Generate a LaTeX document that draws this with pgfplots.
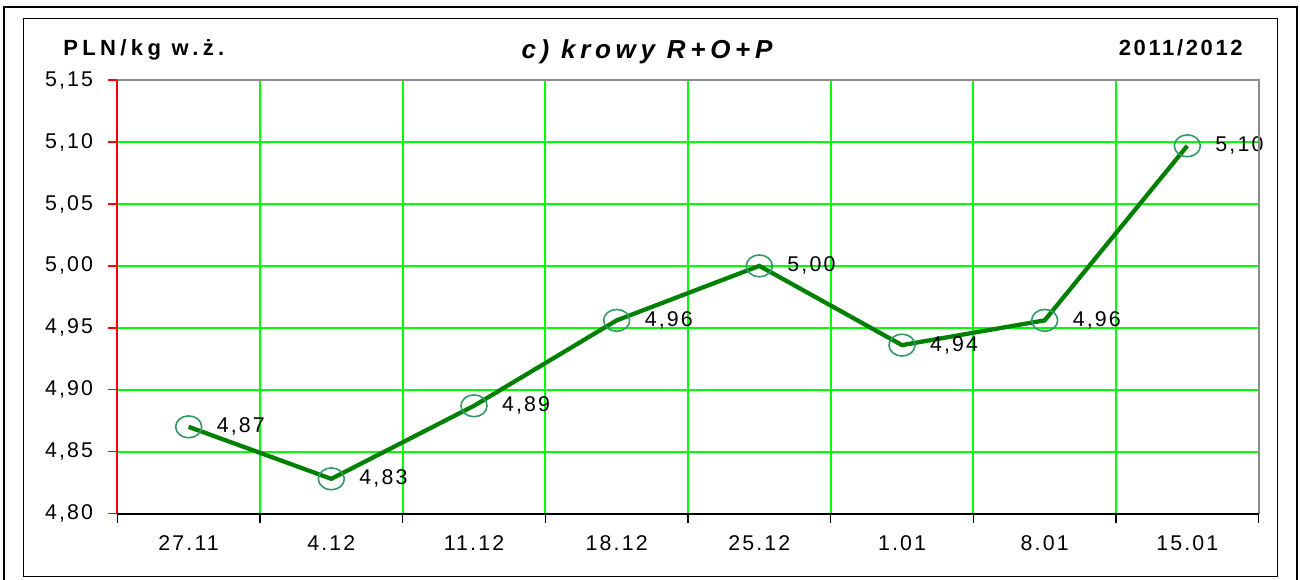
\documentclass[border=0pt]{standalone}
\usepackage{fontspec}
\setmainfont{Liberation Sans}
\newfontfamily\spfont[LetterSpace=10]{Liberation Sans}
\newfontfamily\hdfont[LetterSpace=20]{Liberation Sans}
\newfontfamily\yrfont[LetterSpace=12]{Liberation Sans}
\newfontfamily\tspfont[LetterSpace=18]{Liberation Sans}
\usepackage{pgfplots}
\pgfplotsset{compat=1.18}
\usepackage{pgfplotstable}
\definecolor{lgreen}{HTML}{008000}
\definecolor{mgreen}{HTML}{339966}
\definecolor{gridg}{HTML}{00FF00}
\definecolor{bordg}{HTML}{8C8C8C}

\pgfplotstableread{
x y lab
0.5 4.870 4,87
1.5 4.828 4,83
2.5 4.887 4,89
3.5 4.956 4,96
4.5 5.000 5,00
5.5 4.936 4,94
6.5 4.956 4,96
7.5 5.097 5,10
}\data

\begin{document}
\begin{tikzpicture}
\useasboundingbox (0,0) rectangle (975pt,434.25pt);
\draw[line width=1.5pt] (3pt,-3pt) rectangle (972.75pt,429pt);
\draw[line width=1pt] (17.625pt,1.875pt) rectangle (958.125pt,420.375pt);
\node[anchor=base west, inner sep=0pt, font=\hdfont\bfseries\fontsize{16.5}{19}\selectfont] at (47.25pt,392.25pt) {PLN/kg w.ż.};
\node[anchor=base, inner sep=0pt, font=\tspfont\bfseries\itshape\fontsize{19.5}{22}\selectfont] at (485.25pt,390pt) {c) krowy R+O+P};
\node[anchor=base east, inner sep=0pt, font=\yrfont\bfseries\fontsize{16.5}{19}\selectfont] at (932.25pt,392.25pt) {2011/2012};
\begin{axis}[
  name=ax,
  at={(88pt,49.125pt)}, anchor=south west, scale only axis,
  width=856pt, height=325pt,
  xmin=0, xmax=8, ymin=4.8, ymax=5.15,
  xtick={0,1,2,3,4,5,6,7,8}, xticklabels={},
  extra x ticks={0.5,1.5,2.5,3.5,4.5,5.5,6.5,7.5},
  extra x tick labels={27.11,4.12,11.12,18.12,25.12,1.01,8.01,15.01},
  extra x tick style={major tick length=0pt, grid=none},
  ytick={4.80,4.85,4.90,4.95,5.00,5.05,5.10,5.15},
  xmajorgrids, ymajorgrids,
  major grid style={draw=gridg, line width=1.5pt},
  axis line style={draw=none},
  tick align=outside, xtick pos=bottom, ytick pos=left,
  major tick length=6.75pt,
  x tick style={black, line width=1.2pt},
  y tick style={red, line width=1.2pt},
  yticklabel style={font=\spfont\fontsize{16}{18}\selectfont, xshift=-8pt, /pgf/number format/.cd, fixed, fixed zerofill, precision=2, use comma, assume math mode=true},
  xticklabel style={font=\spfont\fontsize{16}{18}\selectfont, yshift=-13pt},
]
\addplot[only marks, mark=o, mark size=8.2pt, mark options={mgreen, line width=1.2pt, xscale=1.19}] table[x=x,y=y]{\data};
\addplot[lgreen, line width=3.2pt, no markers,
  nodes near coords, point meta=explicit symbolic,
  nodes near coords style={anchor=west, inner sep=0pt, xshift=19.5pt, text=black, font=\spfont\fontsize{16}{18}\selectfont}]
  table[x=x,y=y,meta=lab]{\data};
\end{axis}
\draw[bordg, line width=1.6pt] (ax.north west) -- (ax.north east) -- (ax.south east);
\draw[red, line width=1.5pt] (ax.south west) -- (ax.north west);
\draw[black, line width=1.5pt] (ax.south west) -- (ax.south east);
\end{tikzpicture}
\end{document}
